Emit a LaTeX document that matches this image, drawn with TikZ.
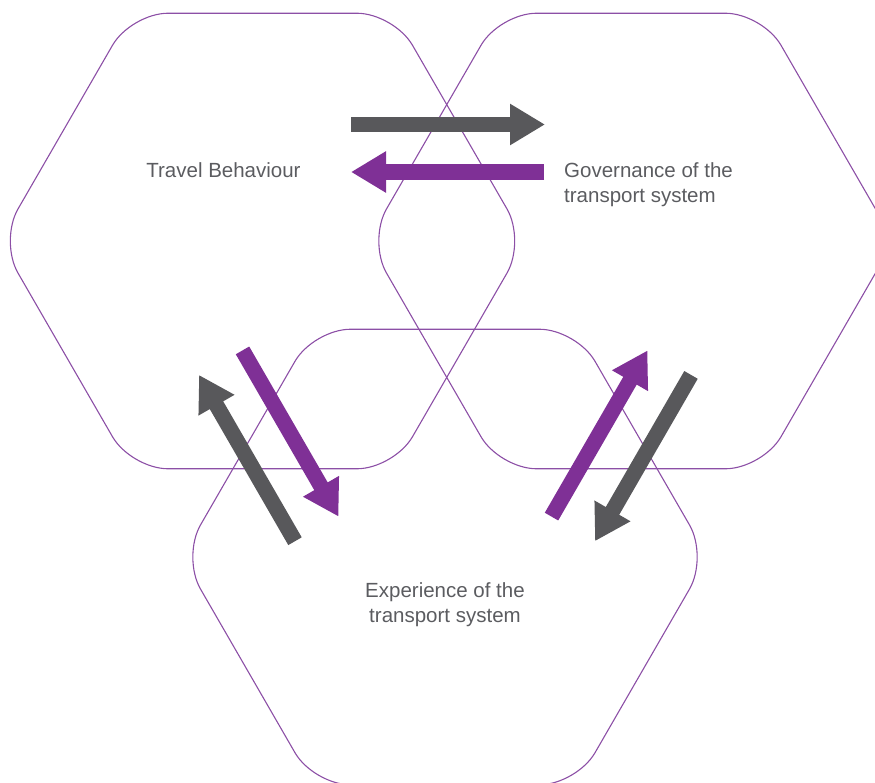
\documentclass[tikz,border=0pt]{standalone}
\usepackage{fontspec}
\setmainfont{Liberation Sans}
\usetikzlibrary{arrows.meta}

\definecolor{hexline}{HTML}{8C4FA6}
\definecolor{arrowgrey}{HTML}{58585B}
\definecolor{arrowpurple}{HTML}{7F3096}
\definecolor{labelgrey}{HTML}{5B5C60}

\tikzset{
  hexagon/.style={draw=hexline, line width=1.1pt, rounded corners=37pt},
  flow/.style={line width=15.5pt, -{Triangle[width=39pt,length=35pt]}},
  greyflow/.style={flow, draw=arrowgrey},
  purpleflow/.style={flow, draw=arrowpurple},
  lbl/.style={inner sep=0pt, text=labelgrey,
    font=\fontsize{20.5}{25}\selectfont}
}

\begin{document}
\begin{tikzpicture}[x=1pt, y=-1pt]
  \useasboundingbox (0,0) rectangle (875,783);
  \clip (0,0) rectangle (875,783);

  % centres of the three domains
  \coordinate (H1) at (262.5,241);
  \coordinate (H2) at (631,241);
  \coordinate (H3) at (445,557);

  % rounded hexagons, each started at the middle of its top side
  \foreach \c in {H1,H2,H3} {
    \draw[hexagon] (\c) ++(90:227.77) -- ++(0:131.5) -- ++(300:263)
      -- ++(240:263) -- ++(180:263) -- ++(120:263) -- ++(60:263) -- cycle;
  }

  % labels
  \node[lbl, anchor=base] (travel) at (223.5,177.7) {Travel Behaviour};
  \node[lbl, anchor=north west, align=left] (gov) at (564,162.7)
    {Governance of the\\transport system};
  \node[lbl, anchor=north, align=center] (exp) at (445,582.3)
    {Experience of the\\transport system};

  % arrow end points
  \coordinate (tbA) at (351,124.5);   \coordinate (gvA) at (545,124.5);
  \coordinate (gvB) at (544,172);     \coordinate (tbB) at (351,172);
  \coordinate (exA) at (295,541.2);   \coordinate (tbC) at (199,374.9);
  \coordinate (tbD) at (242.5,350.4); \coordinate (exB) at (338.5,516.6);
  \coordinate (exC) at (551.5,516.6); \coordinate (gvC) at (647.5,350.4);
  \coordinate (gvD) at (691,374.9);   \coordinate (exD) at (595,541.2);

  % flows between the domains
  \draw[greyflow]   (tbA) -- (gvA);
  \draw[purpleflow] (gvB) -- (tbB);
  \draw[greyflow]   (exA) -- (tbC);
  \draw[purpleflow] (tbD) -- (exB);
  \draw[purpleflow] (exC) -- (gvC);
  \draw[greyflow]   (gvD) -- (exD);
\end{tikzpicture}
\end{document}
